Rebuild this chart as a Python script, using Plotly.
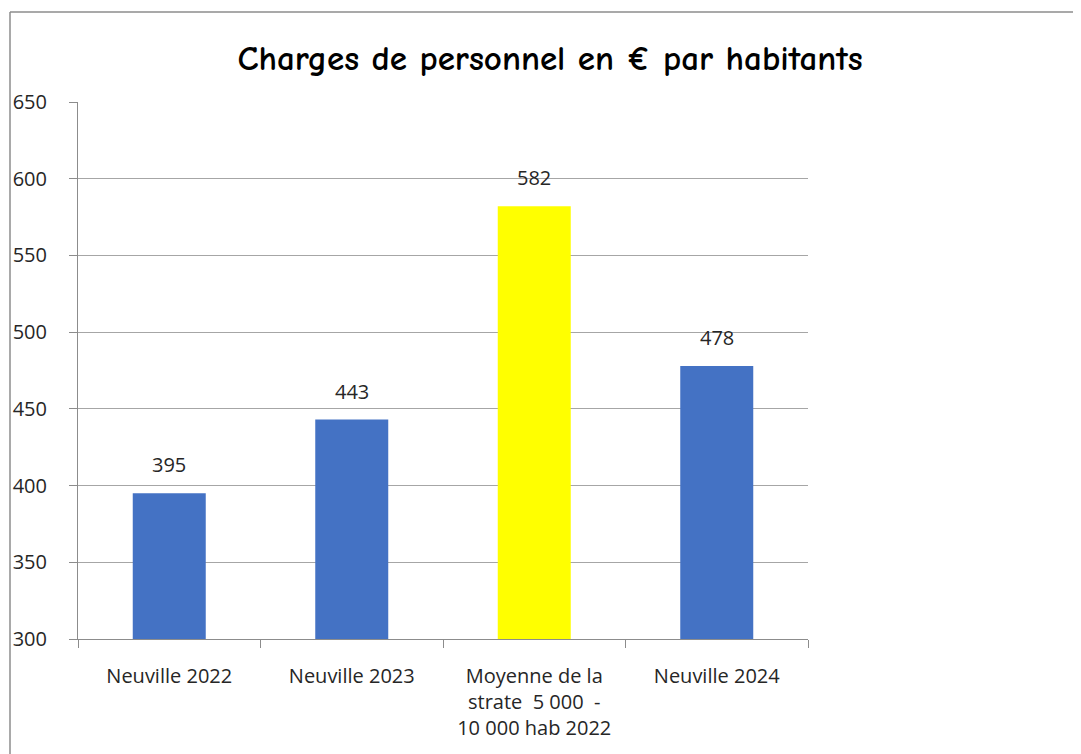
import plotly.graph_objects as go

categories = ["Neuville 2022", "Neuville 2023", "Moyenne de la<br>strate  5 000  -<br>10 000 hab 2022", "Neuville 2024"]
values = [395, 443, 582, 478]
colors = ["#4472C4", "#4472C4", "#FFFF00", "#4472C4"]
y_ticks = [300, 350, 400, 450, 500, 550, 600, 650]

OFF = 8  # page body margin
W, H = 1081 - OFF, 754 - OFF
L, R, T, B = 78 - OFF, 808 - OFF, 102 - OFF, 639 - OFF

TICKFONT = dict(family="Open Sans, sans-serif", size=20, color="#262626")

fig = go.Figure(go.Bar(
    x=categories, y=values, marker=dict(color=colors, line=dict(width=0)),
    width=0.4, cliponaxis=False,
))

for c, v in zip(categories, values):
    fig.add_annotation(x=c, y=v, text=str(v), showarrow=False, yanchor="bottom",
                       yshift=13, font=dict(family="Open Sans, sans-serif", size=20, color="#262626"))

def px_to_paper_x(px):
    return (px - OFF - L) / (R - L)

def px_to_paper_y(py):
    return (B - (py - OFF)) / (B - T)

fig.update_layout(
    width=W, height=H,
    margin=dict(l=L, r=W - R, t=T, b=H - B, pad=0, autoexpand=False),
    paper_bgcolor="white", plot_bgcolor="white",
    showlegend=False,
    title=dict(text="<b>Charges de personnel en € par habitants</b>",
               x=(550 - OFF) / W, xref="container", xanchor="center",
               y=1 - (58 - OFF) / H, yref="container", yanchor="middle",
               font=dict(family="Comic Sans MS, Comic Neue, sans-serif", size=35, color="black")),
    bargap=0.6,
    xaxis=dict(showline=True, linecolor="#8c8c8c", linewidth=1, ticks="outside",
               tickson="boundaries", ticklen=8, tickcolor="#8c8c8c",
               ticklabelstandoff=19, automargin=False,
               tickfont=TICKFONT, showgrid=False),
    yaxis=dict(range=[300, 650], tickvals=y_ticks, showline=True, linecolor="#8c8c8c",
               linewidth=1, ticks="outside", ticklen=8, tickcolor="#8c8c8c",
               gridcolor="#a6a6a6", gridwidth=1, zeroline=False, automargin=False,
               ticklabelstandoff=18, tickfont=TICKFONT),
    shapes=[
        dict(type="line", xref="paper", yref="paper",
             x0=px_to_paper_x(10), x1=px_to_paper_x(1090),
             y0=px_to_paper_y(12), y1=px_to_paper_y(12),
             line=dict(color="#8c8c8c", width=1.5)),
        dict(type="line", xref="paper", yref="paper",
             x0=px_to_paper_x(10), x1=px_to_paper_x(10),
             y0=px_to_paper_y(12), y1=px_to_paper_y(760),
             line=dict(color="#8c8c8c", width=1.5)),
    ],
)

fig.write_html("out.html")
